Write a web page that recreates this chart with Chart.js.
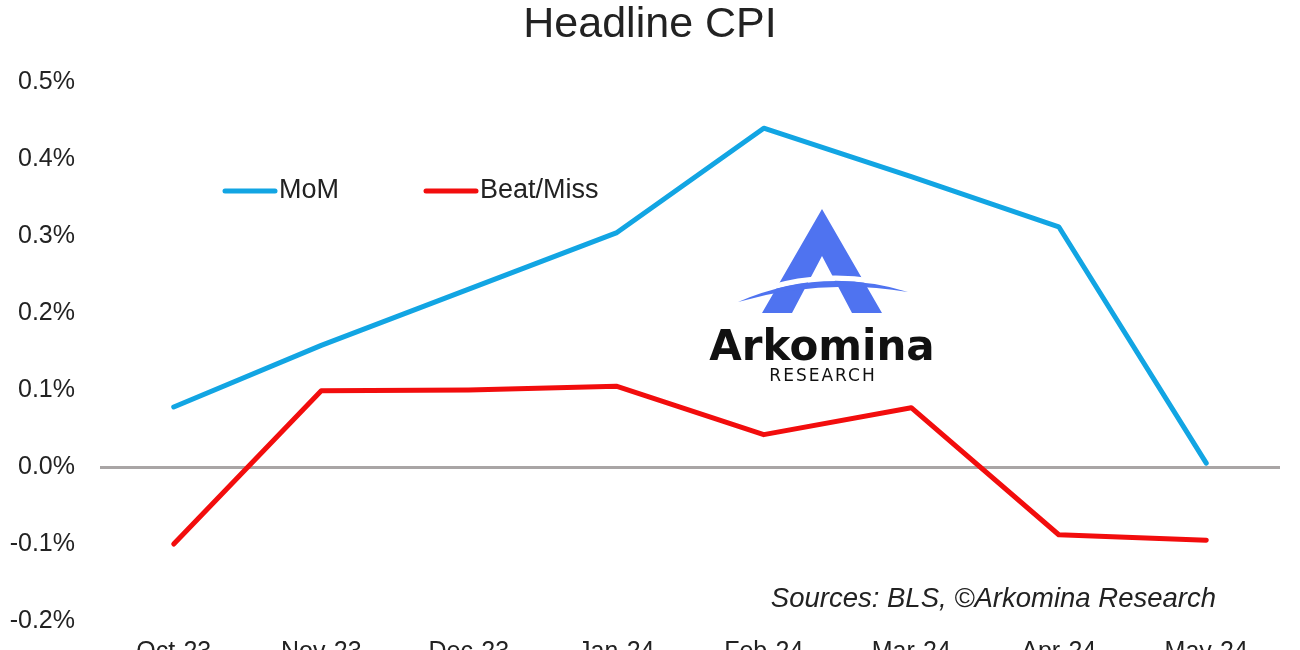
<!DOCTYPE html>
<html>
<head>
<meta charset="utf-8">
<script src="https://cdn.jsdelivr.net/npm/chart.js@4.4.1/dist/chart.umd.min.js"></script>
<style>
    html, body { margin: 0; padding: 0; background: #fff; overflow: hidden; }
    #wrap { position: absolute; left: 0; top: 0; width: 1300px; height: 687px; }
</style>
</head>
<body>
<div id="wrap"><canvas id="myChart" width="1300" height="687"></canvas></div>
<script>
const chartTitle = 'Headline CPI';
const categories = ['Oct-23', 'Nov-23', 'Dec-23', 'Jan-24', 'Feb-24', 'Mar-24', 'Apr-24', 'May-24'];
const momValues = [0.078, 0.158, 0.231, 0.304, 0.44, 0.377, 0.312, 0.005];
const beatMissValues = [-0.10, 0.099, 0.10, 0.105, 0.042, 0.077, -0.088, -0.095];
const yTickMin = -0.2;
const yTickMax = 0.5;
const yTickStep = 0.1;

const fontFamily = '"Liberation Sans", Arial, sans-serif';
const textColor = '#222';
const blue = '#12a5e3';
const red = '#f20d0d';

// title drawn by hand so it centres on the page, not on the padded box
const pageTitle = {
    id: 'pageTitle',
    afterDraw(chart) {
        const ctx = chart.ctx;
        ctx.save();
        ctx.font = '43px ' + fontFamily;
        ctx.fillStyle = textColor;
        ctx.textAlign = 'center';
        ctx.textBaseline = 'alphabetic';
        ctx.fillText(chartTitle, 650, 37);
        ctx.restore();
    }
};

// legend sits inside the plot, drawn by hand
const insideLegend = {
    id: 'insideLegend',
    afterDraw(chart) {
        const ctx = chart.ctx;
        const items = [
            {x: 225, label: chart.data.datasets[0].label, color: chart.data.datasets[0].borderColor},
            {x: 426, label: chart.data.datasets[1].label, color: chart.data.datasets[1].borderColor}
        ];
        ctx.save();
        ctx.font = '27px ' + fontFamily;
        ctx.textBaseline = 'middle';
        items.forEach(it => {
            ctx.strokeStyle = it.color;
            ctx.lineWidth = 5;
            ctx.lineCap = 'round';
            ctx.beginPath();
            ctx.moveTo(it.x, 191);
            ctx.lineTo(it.x + 50, 191);
            ctx.stroke();
            ctx.fillStyle = textColor;
            ctx.fillText(it.label, it.x + 54, 191);
        });
        ctx.restore();
    }
};

const watermark = {
    id: 'watermark',
    beforeDatasetsDraw(chart) {
        const ctx = chart.ctx;
        ctx.save();
        ctx.fillStyle = '#4f73f0';
        // the big A
        ctx.beginPath();
        ctx.moveTo(822, 209);
        ctx.lineTo(882, 313);
        ctx.lineTo(852, 313);
        ctx.lineTo(822, 256);
        ctx.lineTo(792, 313);
        ctx.lineTo(762, 313);
        ctx.closePath();
        ctx.fill();
        // white gap above the swoosh
        ctx.strokeStyle = '#fff';
        ctx.lineWidth = 5;
        ctx.beginPath();
        ctx.moveTo(736, 300);
        ctx.quadraticCurveTo(822, 262, 910, 290);
        ctx.stroke();
        // swoosh
        ctx.fillStyle = '#4f73f0';
        ctx.beginPath();
        ctx.moveTo(738, 302);
        ctx.quadraticCurveTo(822, 266, 908, 292);
        ctx.quadraticCurveTo(822, 278, 738, 302);
        ctx.closePath();
        ctx.fill();
        ctx.fillStyle = '#111';
        ctx.textAlign = 'center';
        ctx.textBaseline = 'alphabetic';
        ctx.font = 'bold 42px "DejaVu Sans", sans-serif';
        ctx.fillText('Arkomina', 822, 360);
        ctx.font = '17px "DejaVu Sans", sans-serif';
        ctx.letterSpacing = '2px';
        ctx.fillText('RESEARCH', 823, 381);
        ctx.restore();
    }
};

const sourceNote = {
    id: 'sourceNote',
    afterDraw(chart) {
        const ctx = chart.ctx;
        ctx.save();
        ctx.font = 'italic 27.5px ' + fontFamily;
        ctx.fillStyle = textColor;
        ctx.textAlign = 'right';
        ctx.textBaseline = 'alphabetic';
        ctx.fillText('Sources: BLS, \u00A9Arkomina Research', 1216, 607);
        ctx.restore();
    }
};

const data = {
    labels: categories,
    datasets: [
        {
            label: 'MoM',
            data: momValues,
            borderColor: blue,
            backgroundColor: blue,
            borderWidth: 5,
            pointRadius: 0,
            borderCapStyle: 'round',
            borderJoinStyle: 'round',
            tension: 0
        },
        {
            label: 'Beat/Miss',
            data: beatMissValues,
            borderColor: red,
            backgroundColor: red,
            borderWidth: 5,
            pointRadius: 0,
            borderCapStyle: 'round',
            borderJoinStyle: 'round',
            tension: 0
        }
    ]
};

const config = {
    type: 'line',
    data: data,
    options: {
        responsive: false,
        animation: false,
        layout: {padding: {left: 0, right: 20, top: 82, bottom: 12}},
        plugins: {
            legend: {display: false},
            tooltip: {enabled: false},
            title: {display: false}
        },
        scales: {
            x: {
                offset: true,
                grid: {display: false, offset: true},
                border: {display: false},
                ticks: {
                    color: textColor,
                    font: {family: fontFamily, size: 25},
                    padding: 8,
                    maxRotation: 0,
                    autoSkip: false
                }
            },
            y: {
                min: yTickMin,
                max: yTickMax,
                border: {display: false},
                grid: {
                    drawTicks: false,
                    lineWidth: 3,
                    color: (c) => (c.tick && Math.abs(c.tick.value) < 1e-9) ? '#a9a5a5' : 'rgba(0,0,0,0)'
                },
                ticks: {
                    stepSize: yTickStep,
                    color: textColor,
                    font: {family: fontFamily, size: 25},
                    padding: 25,
                    callback: (v) => (Math.abs(v) < 1e-9 ? 0 : v).toFixed(1) + '%'
                },
                afterFit: (scale) => { scale.width = 100; }
            }
        }
    },
    plugins: [watermark, insideLegend, sourceNote, pageTitle]
};

var myChart = new Chart(document.getElementById('myChart'), config);
</script>
</body>
</html>
